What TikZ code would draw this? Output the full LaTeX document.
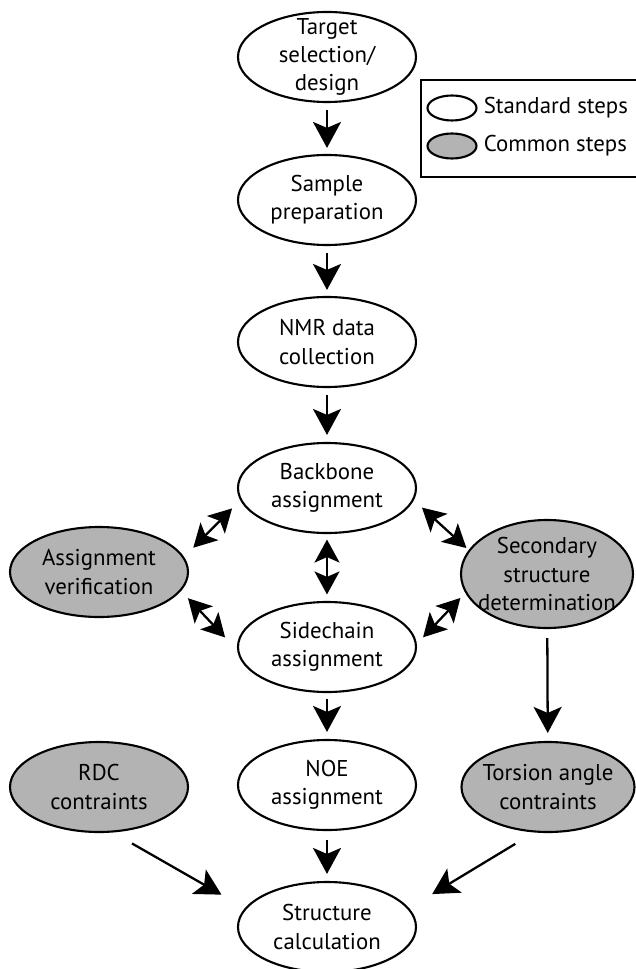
\documentclass[tikz,border=0pt]{standalone}
\usepackage{fontspec}
\setmainfont{PT Sans}
\usepackage{tikz}
\usetikzlibrary{shapes.geometric,arrows.meta,positioning}
\definecolor{commongray}{RGB}{179,179,179}

\begin{document}
\begin{tikzpicture}[
    stepnode/.style={ellipse, draw=black, line width=1.2pt, minimum width=3.56cm, minimum height=1.8cm, inner xsep=-0.3cm, inner ysep=-0.2cm, align=center, font=\fontsize{13}{16}\selectfont},
    standard/.style={stepnode, fill=white},
    common/.style={stepnode, fill=commongray},
    flow/.style={line width=1.3pt, -{Stealth[length=0.52cm, width=0.56cm, inset=0.12cm]}},
    twoway/.style={line width=1.3pt, {Stealth[length=0.46cm, width=0.5cm, inset=0.11cm]}-{Stealth[length=0.46cm, width=0.5cm, inset=0.11cm]}}
]
    \useasboundingbox (0,0) rectangle (12.7,-19.38);

    % main column
    \node[standard] (target) at (6.54,-1.14) {Target\\selection/\\design};
    \node[standard] (sample) at (6.54,-4.00) {Sample\\preparation};
    \node[standard] (nmr) at (6.54,-6.84) {NMR data\\collection};
    \node[standard] (backbone) at (6.54,-9.76) {Backbone\\assignment};
    \node[standard] (sidechain) at (6.54,-12.94) {Sidechain\\assignment};
    \node[standard] (noe) at (6.54,-15.70) {NOE\\assignment};
    \node[standard] (structure) at (6.54,-18.54) {Structure\\calculation};

    % side steps
    \node[common] (verif) at (1.98,-11.44) {Assignment\\verification};
    \node[common, minimum width=3.44cm, minimum height=2.16cm] (secondary) at (10.94,-11.48) {Secondary\\structure\\determination};
    \node[common] (rdc) at (1.98,-15.74) {RDC\\contraints};
    \node[common, minimum width=3.46cm] (torsion) at (10.96,-15.74) {Torsion angle\\contraints};

    % legend
    \draw[line width=1.2pt] (8.42,-1.6) rectangle (12.8,-3.54);
    \node[ellipse, draw=black, line width=1.2pt, fill=white, minimum width=0.98cm, minimum height=0.5cm, inner sep=0pt] (leg1) at (9.04,-2.16) {};
    \node[ellipse, draw=black, line width=1.2pt, fill=commongray, minimum width=0.98cm, minimum height=0.5cm, inner sep=0pt] (leg2) at (9.04,-2.92) {};
    \node[right=0cm of leg1, font=\fontsize{13}{16}\selectfont] (legtxt1) {Standard steps};
    \node[right=0cm of leg2, font=\fontsize{13}{16}\selectfont] (legtxt2) {Common steps};

    \draw[flow, shorten <=0.14cm, shorten >=0.12cm] (target) -- (sample);
    \draw[flow, shorten <=0.14cm, shorten >=0.12cm] (sample) -- (nmr);
    \draw[flow, shorten <=0.14cm, shorten >=0.14cm] (nmr) -- (backbone);
    \draw[flow, shorten <=0.12cm, shorten >=0.14cm] (sidechain) -- (noe);
    \draw[flow, shorten <=0.18cm, shorten >=0.14cm] (noe) -- (structure);
    \draw[flow, shorten <=0.18cm, shorten >=0.16cm] (secondary) -- (torsion);
    \draw[flow, shorten <=0.44cm, shorten >=0.54cm] (rdc.287) -- (structure.167);
    \draw[flow, shorten <=0.44cm, shorten >=0.54cm] (torsion.253) -- (structure.13);

    \draw[twoway, shorten <=0.11cm, shorten >=0.13cm] (backbone) -- (sidechain);
    \draw[twoway, shorten <=0.26cm, shorten >=0.23cm] (verif.10) -- (backbone.188);
    \draw[twoway, shorten <=0.22cm, shorten >=0.06cm] (backbone.352) -- (secondary.163);
    \draw[twoway, shorten <=0.2cm, shorten >=0.35cm] (verif.347) -- (sidechain.182);
    \draw[twoway, shorten <=0.14cm, shorten >=0.18cm] (secondary.193) -- (sidechain.2);
\end{tikzpicture}
\end{document}
